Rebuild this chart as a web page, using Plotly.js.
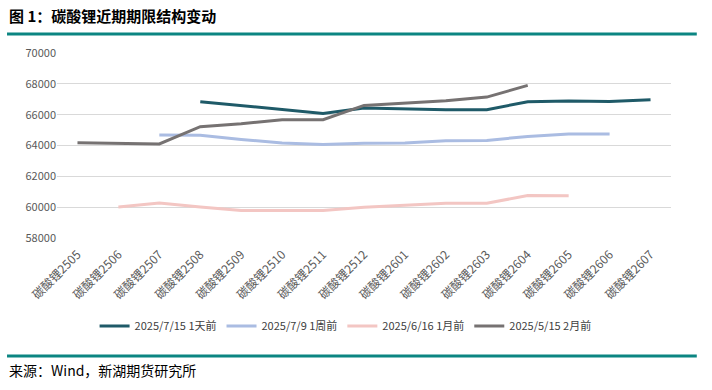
<!DOCTYPE html>
<html><head><meta charset="utf-8">
<script src="https://cdn.plot.ly/plotly-3.0.1.min.js"></script>
<style>html,body{margin:0;padding:0;background:#fff}#chart{width:712px;height:390px}</style>
</head><body><div id="chart"></div>
<script>
const categories = ["碳酸锂2505","碳酸锂2506","碳酸锂2507","碳酸锂2508","碳酸锂2509","碳酸锂2510","碳酸锂2511","碳酸锂2512","碳酸锂2601","碳酸锂2602","碳酸锂2603","碳酸锂2604","碳酸锂2605","碳酸锂2606","碳酸锂2607"];
const seriesNames = ["2025/7/15 1天前","2025/7/9 1周前","2025/6/16 1月前","2025/5/15 2月前"];
const s1 = [null,null,null,66840,66600,66320,66080,66430,66370,66320,66320,66840,66880,66860,66970];
const s2 = [null,null,64680,64660,64390,64160,64070,64140,64160,64310,64330,64590,64740,64740,null];
const s3 = [null,60010,60270,60010,59790,59790,59790,60000,60140,60250,60250,60760,60740,null,null];
const s4 = [64180,64160,64100,65220,65410,65670,65670,66600,66770,66900,67140,67900,null,null,null];
const yTicks = [58000,60000,62000,64000,66000,68000,70000];

const colors = ["#1F5A68","#AABCE2","#F3C6C3","#767272"];
const allSeries = [s1,s2,s3,s4];
const traces = allSeries.map((s,i)=>({
  x: categories, y: s, name: seriesNames[i], type:"scatter", mode:"lines",
  line:{color:colors[i], width:3}, connectgaps:false
}));
const teal = "#0B8582";
const layout = {
  width:712, height:390,
  margin:{l:57, r:41, t:53, b:152},
  paper_bgcolor:"#fff", plot_bgcolor:"#fff",
  font:{family:"'Noto Sans CJK SC', sans-serif", color:"#595959", size:11},
  showlegend:true,
  legend:{orientation:"h", x:0.47, xanchor:"center", y:-0.476, yanchor:"middle",
    font:{size:11, color:"#404040"}, traceorder:"normal"},
  xaxis:{type:"category", range:[-0.5,14.5], showgrid:false, zeroline:false, showline:false,
    tickangle:-45, tickfont:{size:12, color:"#595959"}, ticks:"outside", ticklen:4, tickcolor:"rgba(0,0,0,0)", fixedrange:true},
  yaxis:{range:[58000,70000], tickvals:yTicks, ticktext:yTicks.map(String), showgrid:true,
    gridcolor:"#D9D9D9", gridwidth:1, zeroline:false, showline:false, ticks:"",
    tickfont:{size:11, color:"#595959"}, ticklen:0},
  shapes:[
    {type:"line", xref:"paper", yref:"paper", x0:-0.0814, x1:1.042, y0:1.103, y1:1.103, line:{color:teal, width:3}},
    {type:"line", xref:"paper", yref:"paper", x0:-0.0814, x1:1.042, y0:-0.638, y1:-0.638, line:{color:teal, width:3}}
  ],
  annotations:[
    {xref:"paper", yref:"paper", x:-0.0814, y:1.205, xanchor:"left", yanchor:"middle", showarrow:false,
      text:"<b>图 1：碳酸锂近期期限结构变动</b>", font:{size:15, color:"#000", family:"'Noto Sans CJK SC', sans-serif"}},
    {xref:"paper", yref:"paper", x:-0.0814, y:-0.714, xanchor:"left", yanchor:"middle", showarrow:false,
      text:"来源：Wind，新湖期货研究所", font:{size:14, color:"#000", family:"'Noto Sans CJK SC', sans-serif"}}
  ]
};
Plotly.newPlot("chart", traces, layout, {displayModeBar:false, staticPlot:true});
</script></body></html>
